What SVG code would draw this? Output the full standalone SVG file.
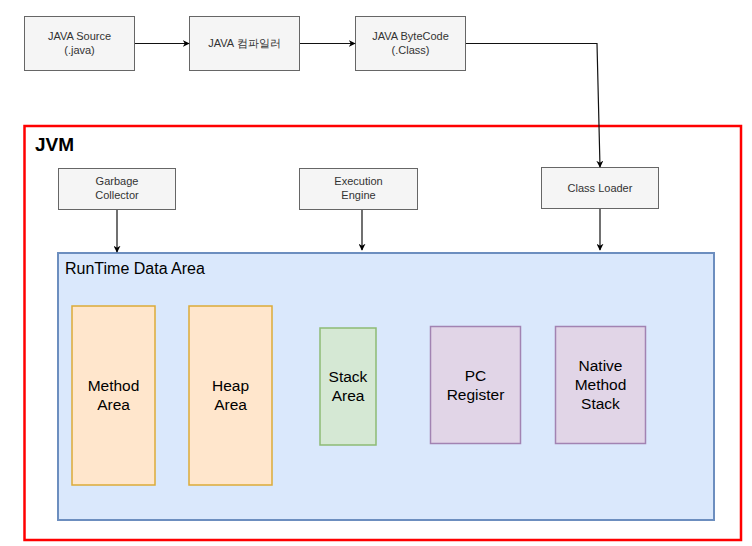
<svg xmlns="http://www.w3.org/2000/svg" width="752" height="546" viewBox="0 0 752 546">
  <defs>
    <marker id="arrow" viewBox="0 0 10 10" refX="9" refY="5" markerWidth="7" markerHeight="7" orient="auto-start-reverse" markerUnits="userSpaceOnUse">
      <path d="M0,0 L10,5 L0,10 L3,5 Z" fill="#000"/>
    </marker>
    <style>
      text { font-family: "Liberation Sans", Arial, sans-serif; }
      .gray { fill: #f5f5f5; stroke: #666666; stroke-width: 1; }
      .small { font-size: 11px; fill: #333333; text-anchor: middle; }
      .area { font-size: 15.5px; fill: #000; text-anchor: middle; }
      .orange { fill: #ffe6cc; stroke: #dcab38; stroke-width: 1.5; }
      .green { fill: #d5e8d4; stroke: #8dbb74; stroke-width: 1.5; }
      .purple { fill: #e1d5e7; stroke: #a283b2; stroke-width: 1.5; }
      .edge { fill: none; stroke: #111; stroke-width: 1.2; marker-end: url(#arrow); }
    </style>
  </defs>

  <rect width="752" height="546" fill="#ffffff"/>

  <!-- JVM container -->
  <g id="jvm">
    <rect x="24.5" y="126" width="716.5" height="414" fill="none" stroke="#ff0000" stroke-width="2.5"/>
    <text x="35" y="151" font-size="19" font-weight="bold" fill="#000">JVM</text>
  </g>

  <!-- runtime data area -->
  <g id="runtime">
    <rect x="58" y="253" width="656" height="267" fill="#dae8fc" stroke="#6c8ebf" stroke-width="2"/>
    <text x="65" y="274" font-size="16" fill="#000">RunTime Data Area</text>
  </g>

  <!-- compile chain -->
  <g id="source">
    <rect class="gray" x="24.5" y="16.5" width="110" height="54"/>
    <text class="small" x="79.5" y="40">JAVA Source</text>
    <text class="small" x="79.5" y="54">(.java)</text>
  </g>
  <g id="compiler">
    <rect class="gray" x="189.5" y="16.5" width="110" height="54"/>
    <text class="small" x="244.5" y="47" font-family="'Liberation Sans', 'Noto Sans CJK KR', sans-serif">JAVA 컴파일러</text>
  </g>
  <g id="bytecode">
    <rect class="gray" x="355.5" y="16.5" width="110" height="54"/>
    <text class="small" x="410.5" y="40">JAVA ByteCode</text>
    <text class="small" x="410.5" y="54">(.Class)</text>
  </g>

  <!-- JVM subsystems -->
  <g id="gc">
    <rect class="gray" x="58.5" y="168.5" width="117" height="41"/>
    <text class="small" x="117" y="185">Garbage</text>
    <text class="small" x="117" y="199">Collector</text>
  </g>
  <g id="engine">
    <rect class="gray" x="299.5" y="168.5" width="118" height="41"/>
    <text class="small" x="358.5" y="185">Execution</text>
    <text class="small" x="358.5" y="199">Engine</text>
  </g>
  <g id="loader">
    <rect class="gray" x="541.5" y="167.5" width="117" height="41"/>
    <text class="small" x="600" y="192">Class Loader</text>
  </g>

  <!-- memory areas -->
  <g id="method-area">
    <rect class="orange" x="72" y="306" width="83" height="179"/>
    <text class="area" x="113.5" y="391">Method</text>
    <text class="area" x="113.5" y="410">Area</text>
  </g>
  <g id="heap-area">
    <rect class="orange" x="189" y="306" width="83" height="179"/>
    <text class="area" x="230.5" y="391">Heap</text>
    <text class="area" x="230.5" y="410">Area</text>
  </g>
  <g id="stack-area">
    <rect class="green" x="320" y="328" width="56" height="117"/>
    <text class="area" x="348" y="382">Stack</text>
    <text class="area" x="348" y="401">Area</text>
  </g>
  <g id="pc-register">
    <rect class="purple" x="430.5" y="326.5" width="90" height="117"/>
    <text class="area" x="475.5" y="381">PC</text>
    <text class="area" x="475.5" y="400">Register</text>
  </g>
  <g id="native-stack">
    <rect class="purple" x="555.5" y="326.5" width="90" height="117"/>
    <text class="area" x="600.5" y="371">Native</text>
    <text class="area" x="600.5" y="390">Method</text>
    <text class="area" x="600.5" y="409">Stack</text>
  </g>

  <!-- connectors -->
  <g id="edges">
    <path class="edge" d="M135,43.5 H189"/>
    <path class="edge" d="M300,43.5 H355"/>
    <path class="edge" d="M466,43.5 H597 L600,167"/>
    <path class="edge" d="M117,210 V252"/>
    <path class="edge" d="M362,210 V250"/>
    <path class="edge" d="M600,209 V250"/>
  </g>
</svg>
